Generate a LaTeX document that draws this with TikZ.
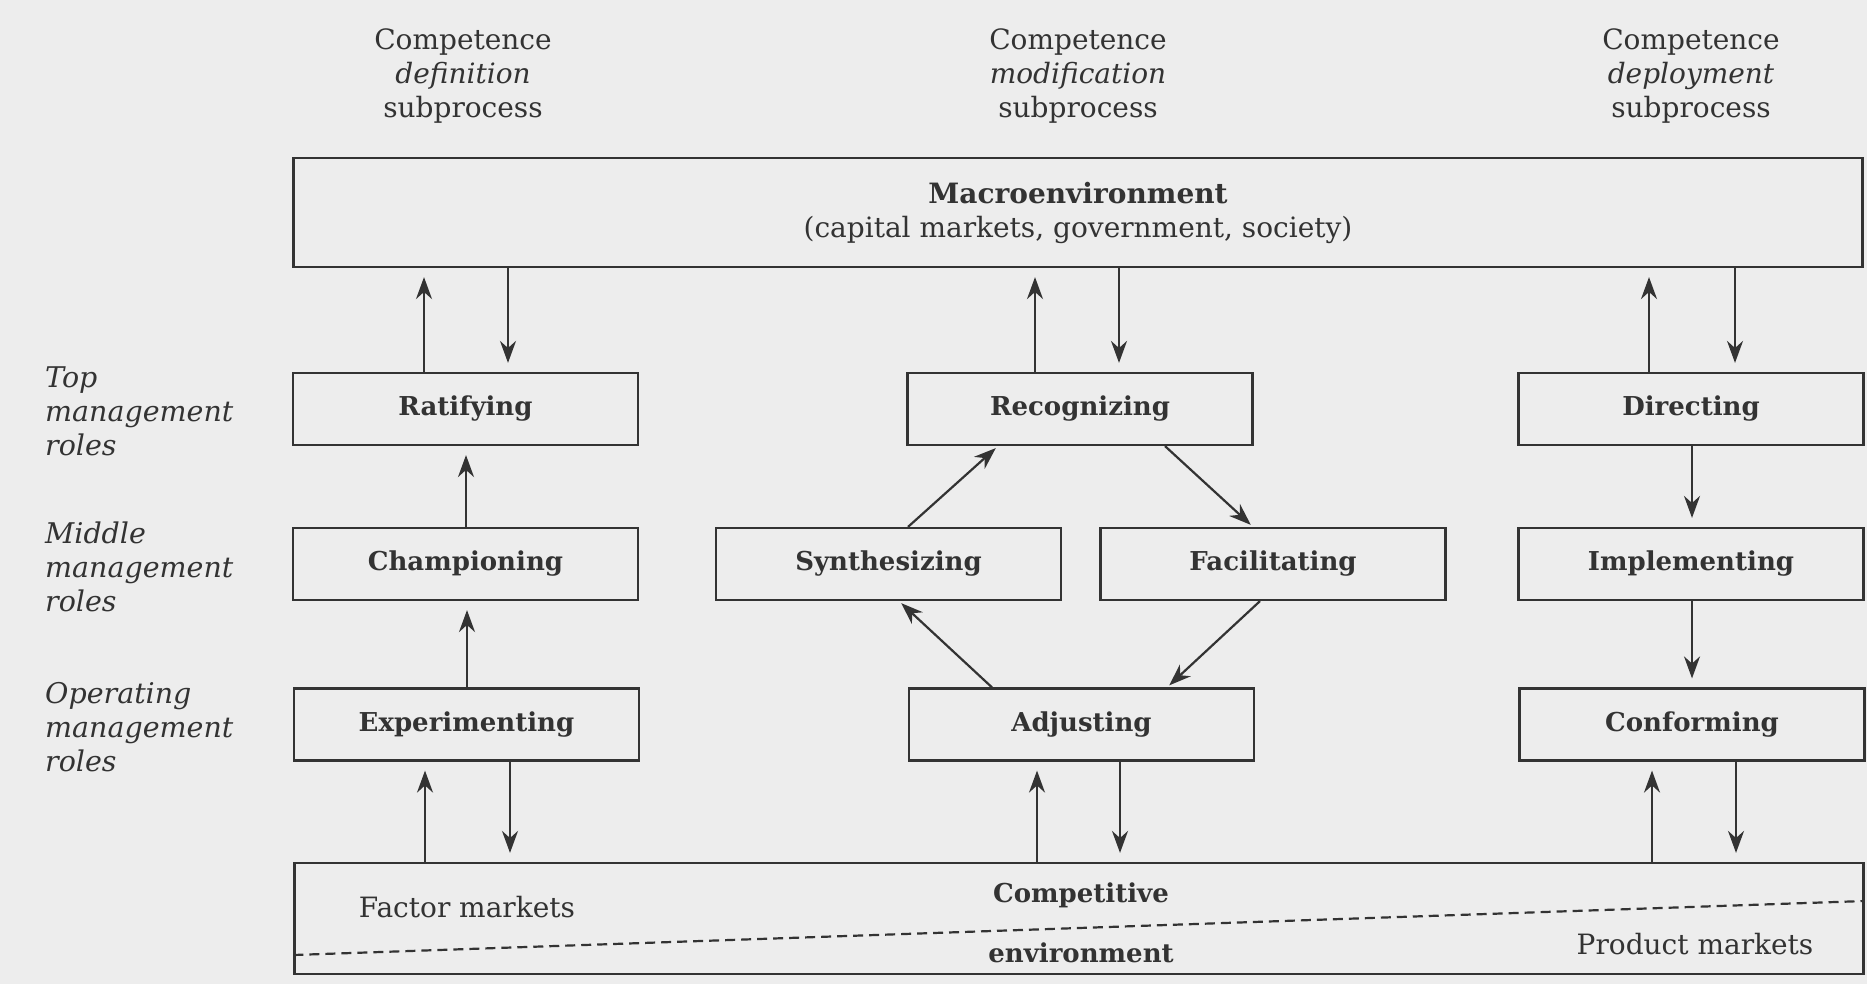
\documentclass[tikz,border=0pt]{standalone}
\usepackage{fontspec}
\setmainfont{DejaVu Serif}
\usetikzlibrary{arrows.meta,calc}
\definecolor{ink}{HTML}{333333}
\definecolor{paper}{HTML}{EDEDED}
\begin{document}
\begin{tikzpicture}[x=1pt,y=-1pt,
  every node/.style={text=ink},
  txt/.style={font=\fontsize{28}{34}\selectfont, inner sep=0pt},
  rolebox/.style={draw=ink, line width=2.2pt, minimum width=345pt, minimum height=72pt,
    inner sep=0pt, font=\fontsize{26}{30}\selectfont\bfseries},
  bigbox/.style={draw=ink, line width=2.2pt, minimum width=1569pt, inner sep=0pt},
  flow/.style={draw=ink, line width=2.2pt, shorten >=9pt, -{Stealth[length=22pt,width=16pt]}},
  dflow/.style={flow, shorten >=3pt},
  level/.style={txt, anchor=west, align=left, font=\fontsize{28.5}{34}\selectfont\itshape},
]
% page
\fill[paper] (0,0) rectangle (1867,984);
\useasboundingbox (0,0) rectangle (1867,984);

% column headings
\node[txt, align=center] (hdef) at (463,76) {Competence\\\textit{definition}\\subprocess};
\node[txt, align=center] (hmod) at (1078,76) {Competence\\\textit{modification}\\subprocess};
\node[txt, align=center] (hdep) at (1691,76) {Competence\\\textit{deployment}\\subprocess};

% level labels
\node[level] (ltop) at (45,411) {Top\\management\\roles};
\node[level] (lmid) at (45,567) {Middle\\management\\roles};
\node[level] (lop)  at (45,727) {Operating\\management\\roles};

% macroenvironment
\node[bigbox, minimum height=109pt, txt, align=center] (mac) at (1078,212.5)
  {\textbf{Macroenvironment}\\(capital markets, government, society)};

% role boxes
\node[rolebox] (rat) at (465.5,409) {Ratifying};
\node[rolebox] (rec) at (1080,409) {Recognizing};
\node[rolebox] (dir) at (1691,409) {Directing};
\node[rolebox] (cha) at (465.5,564) {Championing};
\node[rolebox] (syn) at (888.5,564) {Synthesizing};
\node[rolebox] (fac) at (1273,564) {Facilitating};
\node[rolebox] (imp) at (1691,564) {Implementing};
\node[rolebox] (exm) at (466.5,724.5) {Experimenting};
\node[rolebox] (adj) at (1081.5,724.5) {Adjusting};
\node[rolebox] (con) at (1692,724.5) {Conforming};

% competitive environment
\node[bigbox, minimum height=111pt] (env) at (1079,918.5) {};
\draw[ink, line width=2.2pt, dash pattern=on 10pt off 6pt]
  (env.west |- 0,955) -- (env.east |- 0,901);
\node[txt] (fmk) at (467,907) {Factor markets};
\node[txt, font=\fontsize{26}{34}\selectfont\bfseries] (cmp) at (1081,895) {Competitive};
\node[txt, font=\fontsize{26}{34}\selectfont\bfseries] (cen) at (1081,953) {environment};
\node[txt] (pmk) at (1695,944) {Product markets};

% definition column
\draw[flow] (rat.north -| 424,0) -- (mac.south -| 424,0);
\draw[flow] (mac.south -| 508,0) -- (rat.north -| 508,0);
\draw[flow] (cha.north -| 466,0) -- (rat.south -| 466,0);
\draw[flow] (exm.north -| 467,0) -- (cha.south -| 467,0);
\draw[flow] (env.north -| 425,0) -- (exm.south -| 425,0);
\draw[flow] (exm.south -| 510,0) -- (env.north -| 510,0);

% modification column
\draw[flow] (rec.north -| 1035,0) -- (mac.south -| 1035,0);
\draw[flow] (mac.south -| 1119,0) -- (rec.north -| 1119,0);
\draw[dflow] (syn.north -| 908,0) -- (rec.south -| 998,0);
\draw[dflow] (rec.south -| 1165,0) -- (fac.north -| 1253,0);
\draw[dflow] (fac.south -| 1260,0) -- (adj.north -| 1167,0);
\draw[dflow] (adj.north -| 992,0) -- (syn.south -| 899,0);
\draw[flow] (env.north -| 1037,0) -- (adj.south -| 1037,0);
\draw[flow] (adj.south -| 1120,0) -- (env.north -| 1120,0);

% deployment column
\draw[flow] (dir.north -| 1649,0) -- (mac.south -| 1649,0);
\draw[flow] (mac.south -| 1735,0) -- (dir.north -| 1735,0);
\draw[flow] (dir.south -| 1692,0) -- (imp.north -| 1692,0);
\draw[flow] (imp.south -| 1692,0) -- (con.north -| 1692,0);
\draw[flow] (env.north -| 1652,0) -- (con.south -| 1652,0);
\draw[flow] (con.south -| 1736,0) -- (env.north -| 1736,0);
\end{tikzpicture}
\end{document}
